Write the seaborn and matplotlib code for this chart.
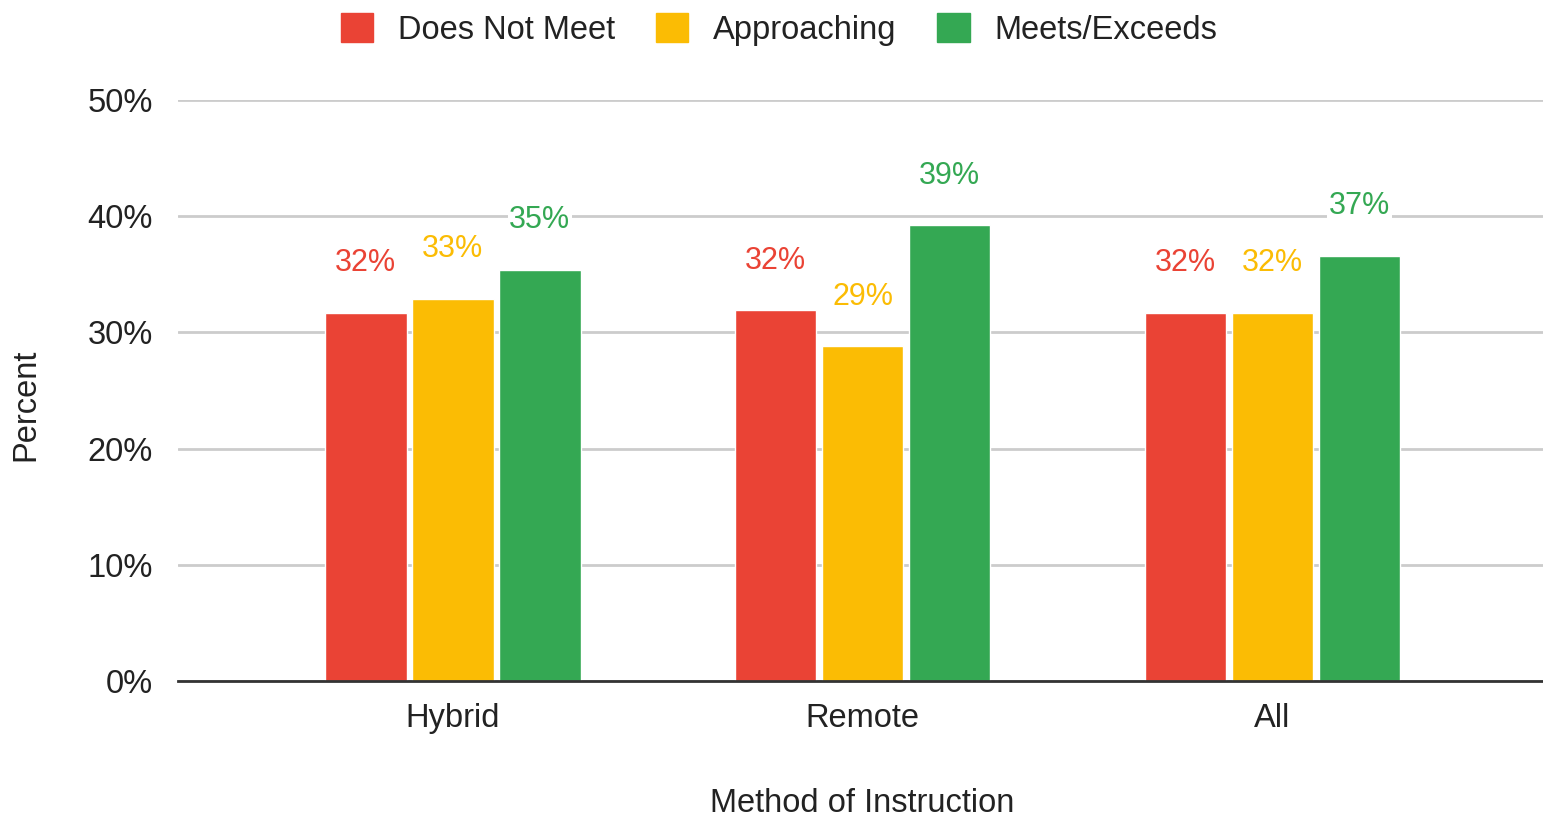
import matplotlib
matplotlib.use("Agg")
import matplotlib.pyplot as plt
import pandas as pd
import seaborn as sns

methods = ["Hybrid", "Remote", "All"]
levels = ["Does Not Meet", "Approaching", "Meets/Exceeds"]
does_not_meet = [31.7, 31.9, 31.7]
approaching = [32.9, 28.8, 31.7]
meets_exceeds = [35.4, 39.2, 36.6]
level_colors = ["#EA4335", "#FBBC04", "#34A853"]

rows = []
for lvl, vals in zip(levels, [does_not_meet, approaching, meets_exceeds]):
    for m, v in zip(methods, vals):
        rows.append({"Method": m, "Level": lvl, "Percent": v})
df = pd.DataFrame(rows)

sns.set_style("white")
plt.rcParams["font.family"] = ["Liberation Sans", "DejaVu Sans"]
fs = 23.5

fig = plt.figure(figsize=(15.43, 8.17), dpi=100)
ax = fig.add_axes([178 / 1543, 1 - 681 / 817, 1365 / 1543, 581 / 817])

sns.barplot(data=df, x="Method", y="Percent", hue="Level", hue_order=levels,
            palette=level_colors, width=0.637, gap=0.06, ax=ax, legend=False,
            saturation=1, errorbar=None)

# value labels above the bars
for cont, col in zip(ax.containers, level_colors):
    labels = [f"{v:.0f}%" for v in cont.datavalues]
    ax.bar_label(cont, labels=labels, padding=25, color=col, fontsize=22,
                 bbox=dict(facecolor="white", edgecolor="none", pad=1))

ax.set_ylim(0, 50)
ax.set_xlim(-0.67, 2.66)
ax.set_yticks(range(0, 51, 10))
ax.set_yticklabels([f"{t}%" for t in range(0, 51, 10)], fontsize=fs, color="#222222")
ax.tick_params(axis="x", labelsize=fs, labelcolor="#222222", length=0, pad=16)
ax.tick_params(axis="y", length=0, pad=18)
ax.grid(axis="y", color="#cccccc", linewidth=2)
ax.set_axisbelow(True)
for s in ["top", "right", "left"]:
    ax.spines[s].set_visible(False)
ax.spines["bottom"].set_color("#333333")
ax.spines["bottom"].set_linewidth(2)
ax.spines["bottom"].set_zorder(3)

ax.set_xlabel("Method of Instruction", fontsize=fs, color="#222222")
ax.xaxis.set_label_coords(0.501, -123 / 581)
ax.set_ylabel("Percent", fontsize=fs, color="#222222")
ax.yaxis.set_label_coords(-152 / 1365, 0.475)
ax.xaxis.label.set_va("center")
ax.yaxis.label.set_va("center")

handles = [plt.Rectangle((0, 0), 1, 1, color=c) for c in level_colors]
fig.legend(handles, levels, loc="upper center", bbox_to_anchor=(779 / 1543, 1.02),
           ncol=3, frameon=False, fontsize=fs, handlelength=1.0, handleheight=1.0,
           columnspacing=1.25, handletextpad=0.75, labelcolor="#222222")

fig.savefig("out.png", dpi=100)
